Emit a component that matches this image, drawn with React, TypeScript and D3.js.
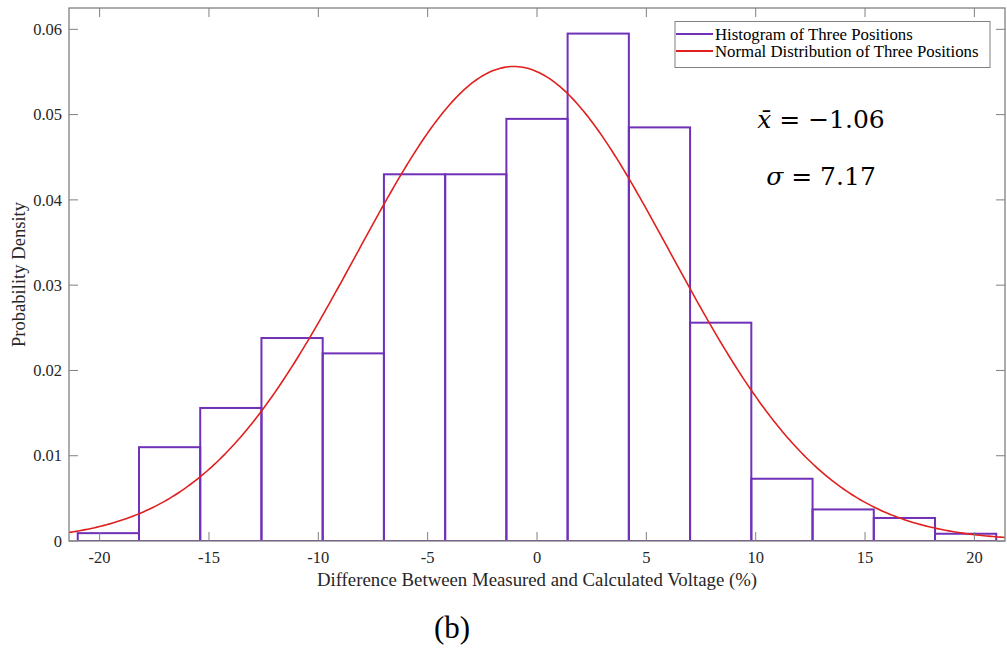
import React from "react";
import * as d3 from "d3";

const binEdges = [-21, -18.2, -15.4, -12.6, -9.8, -7, -4.2, -1.4, 1.4, 4.2, 7, 9.8, 12.6, 15.4, 18.2, 21];
const densities = [0.00092, 0.011, 0.0156, 0.0238, 0.022, 0.043, 0.043, 0.0495, 0.0595, 0.0485, 0.0256, 0.0073, 0.0037, 0.0027, 0.00085];
const xTicks = [-20, -15, -10, -5, 0, 5, 10, 15, 20];
const xTickLabels = ["-20", "-15", "-10", "-5", "0", "5", "10", "15", "20"];
const yTicks = [0, 0.01, 0.02, 0.03, 0.04, 0.05, 0.06];
const yTickLabels = ["0", "0.01", "0.02", "0.03", "0.04", "0.05", "0.06"];
const MEAN = -1.06;
const SIGMA = 7.17;
const legendLabels = ["Histogram of Three Positions", "Normal Distribution of Three Positions"];

const W = 1007;
const H = 650;
const L = 69, R = 1005, T = 8, B = 541;
const PURPLE = "#7030b8";
const RED = "#e0201e";
const AXIS = "#808080";
const TEXT = "#262626";
const FONT = "'Liberation Serif', 'Times New Roman', serif";
const MATH = "'DejaVu Serif', serif";

export default function App() {
  const x = d3.scaleLinear().domain([-21.4, 21.4]).range([L, R]);
  const y = d3.scaleLinear().domain([0, 0.0625]).range([B, T]);

  const pdf = (v: number) => Math.exp(-0.5 * ((v - MEAN) / SIGMA) ** 2) / (SIGMA * Math.sqrt(2 * Math.PI));
  const xs = d3.range(0, 401).map((i) => -21.4 + (42.8 * i) / 400);
  const line = d3.line<number>().x((v) => x(v)).y((v) => y(pdf(v)));

  const tick = 9;

  return (
    <svg width={W} height={H} style={{ position: "absolute", left: 0, top: 0, background: "#fff" }} fontFamily={FONT}>
      <defs>
        <clipPath id="plot">
          <rect x={L} y={T} width={R - L} height={B - T} />
        </clipPath>
      </defs>
      <rect x={0} y={0} width={W} height={H} fill="#fff" />
      <g clipPath="url(#plot)">
        {densities.map((d, i) => (
          <rect
            key={i}
            x={x(binEdges[i])}
            y={y(d)}
            width={x(binEdges[i + 1]) - x(binEdges[i])}
            height={y(0) - y(d)}
            fill="none"
            stroke={PURPLE}
            strokeWidth={2}
          />
        ))}
        <path d={line(xs) || ""} fill="none" stroke={RED} strokeWidth={1.6} />
      </g>
      {/* axes box */}
      <rect x={L} y={T} width={R - L} height={B - T} fill="none" stroke={AXIS} strokeWidth={1.3} />
      {xTicks.map((t, i) => (
        <g key={"xt" + i}>
          <line x1={x(t)} x2={x(t)} y1={B} y2={B - tick} stroke={AXIS} strokeWidth={1} />
          <line x1={x(t)} x2={x(t)} y1={T} y2={T + tick} stroke={AXIS} strokeWidth={1} />
          <text x={x(t)} y={563} textAnchor="middle" fontSize={16.5} fill={TEXT}>
            {xTickLabels[i]}
          </text>
        </g>
      ))}
      {yTicks.map((t, i) => (
        <g key={"yt" + i}>
          <line x1={L} x2={L + tick} y1={y(t)} y2={y(t)} stroke={AXIS} strokeWidth={1} />
          <line x1={R} x2={R - tick} y1={y(t)} y2={y(t)} stroke={AXIS} strokeWidth={1} />
          <text x={62} y={y(t)} dy="0.35em" textAnchor="end" fontSize={16.5} fill={TEXT}>
            {yTickLabels[i]}
          </text>
        </g>
      ))}
      <text x={537} y={586} textAnchor="middle" fontSize={18.8} fill={TEXT}>
        Difference Between Measured and Calculated Voltage (%)
      </text>
      <text transform={`translate(25, ${(T + B) / 2}) rotate(-90)`} textAnchor="middle" fontSize={18.6} fill={TEXT}>
        Probability Density
      </text>
      {/* legend */}
      <rect x={675} y={21.5} width={315} height={46} fill="#fff" stroke={AXIS} strokeWidth={1} />
      <line x1={676} x2={713} y1={34} y2={34} stroke={PURPLE} strokeWidth={2} />
      <line x1={676} x2={713} y1={51} y2={51} stroke={RED} strokeWidth={2} />
      <text x={715} y={39.5} fontSize={16.8} fill="#000">
        {legendLabels[0]}
      </text>
      <text x={715} y={57} fontSize={16.8} fill="#000">
        {legendLabels[1]}
      </text>
      {/* statistics */}
      <text x={821} y={128} textAnchor="middle" fontSize={25} fontFamily={MATH} fill="#000">
        <tspan fontStyle="italic">x̄</tspan>
        <tspan> = −1.06</tspan>
      </text>
      <text x={821} y={185} textAnchor="middle" fontSize={25} fontFamily={MATH} fill="#000">
        <tspan fontStyle="italic">σ</tspan>
        <tspan> = 7.17</tspan>
      </text>
      <text x={452} y={638} textAnchor="middle" fontSize={31} fill="#000">
        (b)
      </text>
    </svg>
  );
}
